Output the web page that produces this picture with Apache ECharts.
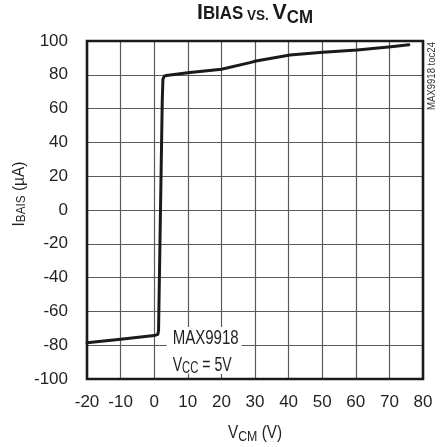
<!DOCTYPE html>
<html><head><meta charset="utf-8">
<script src="https://cdn.jsdelivr.net/npm/echarts@6/dist/echarts.min.js"></script>
<style>html,body{margin:0;padding:0;background:#fff}#c{width:441px;height:447px}</style>
</head><body><div id="c"></div>
<script>
// ---- data ----
const vcm   = [-20, -10, 0, 1.1, 1.3, 2.4, 2.6, 3.0, 3.6, 10, 20, 28.5, 30.3, 40.4, 50.2, 60.4, 70.5, 75.8];
const ibias = [-78.5, -76.5, -74.3, -73.6, -71, 65, 77.5, 79.2, 79.6, 81.2, 83.3, 87.2, 88.2, 91.7, 93.3, 94.7, 96.6, 97.8];
const xTicks = [-20, -10, 0, 10, 20, 30, 40, 50, 60, 70, 80];
const yTicks = [-100, -80, -60, -40, -20, 0, 20, 40, 60, 80, 100];

const FONT = '"Liberation Sans", Arial, sans-serif';
const TXT = '#231f20';

const chart = echarts.init(document.getElementById('c'), null, {renderer: 'canvas'});
chart.setOption({
  animation: false,
  grid: {left: 87, right: 18, top: 41, bottom: 68, show: false},
  xAxis: {
    type: 'value', min: xTicks[0], max: xTicks[xTicks.length - 1], interval: 10,
    axisLine: {show: false}, axisTick: {show: false},
    axisLabel: {fontFamily: FONT, fontSize: 17, color: TXT, margin: 15},
    splitLine: {show: true, showMinLine: false, showMaxLine: false, lineStyle: {color: '#5a5a5a', width: 1.2}}
  },
  yAxis: {
    type: 'value', min: yTicks[0], max: yTicks[yTicks.length - 1], interval: 20,
    axisLine: {show: false}, axisTick: {show: false},
    axisLabel: {fontFamily: FONT, fontSize: 17, color: TXT, margin: 19},
    splitLine: {show: true, showMinLine: false, showMaxLine: false, lineStyle: {color: '#5a5a5a', width: 1.2}}
  },
  series: [{
    type: 'line', data: vcm.map((v, i) => [v, ibias[i]]),
    showSymbol: false, symbol: 'none',
    lineStyle: {color: '#1a1a1a', width: 3, join: 'round', cap: 'round'}, z: 5
  }]
});

// text helpers (condensed look via horizontal scaling)
const mctx = document.createElement('canvas').getContext('2d');
function w(t, size, weight) { mctx.font = (weight || 'normal') + ' ' + size + 'px ' + FONT; return mctx.measureText(t).width; }
function seq(parts, x0, baseline, target, color, anchor) {
  const total = parts.reduce((s, p) => s + w(p.t, p.size, p.weight), 0);
  const sx = target ? target / total : 1;
  let x = anchor === 'left' ? x0 : x0 - total * sx / 2;
  const out = [];
  parts.forEach(p => {
    out.push({type: 'text', x: x, y: baseline + (p.dy || 0) - 0.31 * p.size, scaleX: sx, z: 50,
      style: {text: p.t, font: (p.weight || 'normal') + ' ' + p.size + 'px ' + FONT, fill: color || TXT,
        align: 'left', verticalAlign: 'middle'}});
    x += w(p.t, p.size, p.weight) * sx;
  });
  return out;
}

const P = (x, y) => chart.convertToPixel({gridIndex: 0}, [x, y]);
const tl = P(xTicks[0], yTicks[yTicks.length - 1]);
const br = P(xTicks[xTicks.length - 1], yTicks[0]);
const cxPlot = (tl[0] + br[0]) / 2;

// annotation box
const b1 = P(3.72, -69.2), b2 = P(26.0, -96.9);
const aX = b1[0] + 6;

const g = [];
g.push({type: 'rect', z: 20, shape: {x: b1[0], y: b1[1], width: b2[0] - b1[0], height: b2[1] - b1[1]}, style: {fill: '#fff'}});
g.push(...seq([{t: 'MAX9918', size: 20}], aX, b1[1] + 18, 66, TXT, 'left'));
g.push(...seq([{t: 'V', size: 20}, {t: 'CC', size: 16, dy: 2}, {t: ' = 5V', size: 20}], aX, b1[1] + 44.5, 59, TXT, 'left'));
// frame
g.push({type: 'rect', z: 30, shape: {x: tl[0], y: tl[1], width: br[0] - tl[0], height: br[1] - tl[1]},
  style: {fill: 'none', stroke: '#1a1a1a', lineWidth: 2.6}});
// title
g.push(...seq([{t: 'I', size: 22, weight: 'bold'}, {t: 'BIAS', size: 17.5, weight: 'bold'}, {t: ' VS. ', size: 14, weight: 'bold'},
  {t: 'V', size: 22, weight: 'bold'}, {t: 'CM', size: 17.5, weight: 'bold', dy: 4}], cxPlot, 20, 116, '#1a1a1a'));
// x axis name
g.push(...seq([{t: 'V', size: 18.5}, {t: 'CM', size: 15, dy: 3}, {t: ' (V)', size: 18.5}], cxPlot, 439, 54));
// y axis name (rotated)
g.push({type: 'group', x: 25, y: 194, rotation: Math.PI / 2,
  children: seq([{t: 'I', size: 16.5}, {t: 'BAIS', size: 12.5}, {t: ' (\u00b5A)', size: 16.5}], 0, 0, 65)});
// side note
g.push({type: 'group', x: 435, y: 76, rotation: Math.PI / 2,
  children: seq([{t: 'MAX9918 toc24', size: 10}], 0, 0, 68, '#333')});

chart.setOption({graphic: g});
</script></body></html>
